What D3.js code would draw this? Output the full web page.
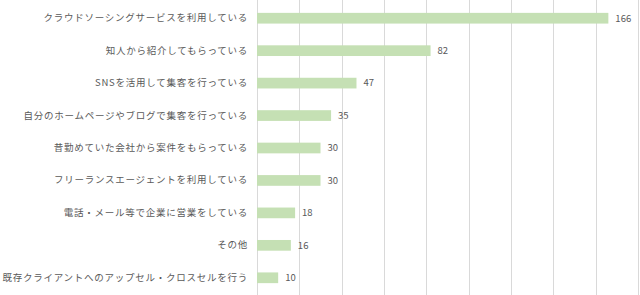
<!DOCTYPE html>
<html>
<head>
<meta charset="utf-8">
<script src="https://cdn.jsdelivr.net/npm/d3@7"></script>
<style>
body { margin: 0; background: #fff; }
svg text { font-family: "Noto Sans CJK JP", sans-serif; fill: #595959; }
</style>
</head>
<body>
<svg id="chart"></svg>
<script>
const WIDTH = 640;
const HEIGHT = 295;

const categories = [
    "クラウドソーシングサービスを利用している",
    "知人から紹介してもらっている",
    "SNSを活用して集客を行っている",
    "自分のホームページやブログで集客を行っている",
    "昔勤めていた会社から案件をもらっている",
    "フリーランスエージェントを利用している",
    "電話・メール等で企業に営業をしている",
    "その他",
    "既存クライアントへのアップセル・クロスセルを行う"
];
const values = [166, 82, 47, 35, 30, 30, 18, 16, 10];
const gridTicks = [0, 20, 40, 60, 80, 100, 120, 140, 160, 180];

const margin = {top: 2, right: 2, bottom: 1, left: 257};

function main(){
    const svg = d3.select("#chart")
        .attr("width", WIDTH)
        .attr("height", HEIGHT);

    const x = d3.scaleLinear()
        .domain([0, 180])
        .range([margin.left, WIDTH - margin.right]);

    const y = d3.scaleBand()
        .domain(categories)
        .range([margin.top, HEIGHT - margin.bottom])
        .paddingInner(0.67)
        .paddingOuter(0.335);

    // vertical grid lines
    svg.append("g")
        .selectAll("line")
        .data(gridTicks)
        .enter()
        .append("line")
        .attr("x1", d => Math.round(x(d)) + 0.5)
        .attr("x2", d => Math.round(x(d)) + 0.5)
        .attr("y1", 0)
        .attr("y2", HEIGHT)
        .attr("stroke", "#d9d9d9")
        .attr("stroke-width", 1);

    svg.append("g")
        .selectAll("rect")
        .data(values)
        .enter()
        .append("rect")
        .attr("x", x(0))
        .attr("y", (d, i) => y(categories[i]))
        .attr("width", d => x(d) - x(0))
        .attr("height", y.bandwidth())
        .attr("fill", "#c5e0b4");

    // value labels
    svg.append("g")
        .selectAll("text")
        .data(values)
        .enter()
        .append("text")
        .attr("x", d => x(d) + 7)
        .attr("y", (d, i) => y(categories[i]) + y.bandwidth() / 2)
        .attr("dy", "0.35em")
        .attr("font-size", "9.5px")
        .text(d => d);

    // category labels
    const yAxis = d3.axisLeft(y).tickSize(0).tickPadding(9);
    svg.append("g")
        .attr("transform", "translate(" + margin.left + ",0)")
        .call(yAxis)
        .call(g => g.select(".domain").remove())
        .selectAll("text")
        .attr("font-family", null)
        .attr("font-size", "9.5px")
        .attr("letter-spacing", "0.75px");
}

window.addEventListener("load", main);
</script>
</body>
</html>
